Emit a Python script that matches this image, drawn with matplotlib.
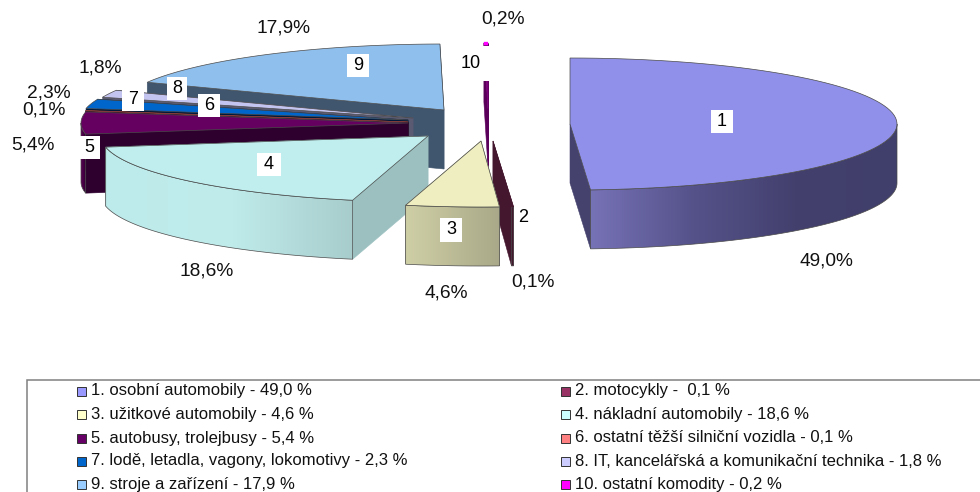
import numpy as np
import matplotlib
matplotlib.use('Agg')
import matplotlib.pyplot as plt
from matplotlib.colors import LinearSegmentedColormap
from matplotlib.patches import Polygon, Rectangle

plt.rcParams['font.family'] = ['Liberation Sans', 'DejaVu Sans']

VALUES = [49.0, 0.1, 4.6, 18.6, 5.4, 0.1, 2.3, 1.8, 17.9, 0.2]
NAMES = ['osobní automobily', 'motocykly', 'užitkové automobily', 'nákladní automobily',
         'autobusy, trolejbusy', 'ostatní těžší silniční vozidla',
         'lodě, letadla, vagony, lokomotivy', 'IT, kancelářská a komunikační technika',
         'stroje a zařízení', 'ostatní komodity']

# pie geometry in pixels
RX, RY, DEPTH = 327, 66, 59
APEX = [(570, 124), (493, 141), (481, 141), (428, 136), (408, 123),
        (408, 122), (408, 120), (413, 118), (444, 110), (488, 109)]
TOP = ['#9090ea', '#45172f', '#eeeec0', '#c0eeee', '#660060',
       '#803c38', '#0066cc', '#c4c4f0', '#8fbfec', '#7a0078']
CUT = ['#45426e', '#45172f', '#a9a888', '#9cc0c0', '#2e002e',
       '#2a1010', '#00183a', '#5a5a72', '#40566e', '#5a005a']
OUTER = [['#7672b6', '#55528a', '#43406e', '#403e6a'], ['#45172f', '#45172f'],
         ['#cfcfa6', '#a9a888'], ['#bdeaea', '#c0ecec', '#a8cccc'], ['#5c0058', '#2e002e'],
         ['#2a1010', '#2a1010'], ['#00183a', '#00183a'], ['#5a5a72', '#5a5a72'],
         ['#40566e', '#40566e'], ['#700070', '#700070']]
DRAW_ORDER = [8, 7, 6, 5, 4, 9, 3, 1, 2, 0]
THIN = [1, 5, 9]

# number boxes: x0, y0, x1, y1
NUM_BOXES = [(711, 110, 733, 133), (517, 206, 529, 228), (440, 218, 462, 242), (257, 153, 281, 176),
             (79, 136, 100, 159), (198, 94, 220, 117), (122, 89, 144, 111), (167, 77, 187, 100),
             (347, 54, 369, 77), (452, 46, 490, 81)]
PCT_POS = [(826, 261), (533, 282), (446, 293), (207, 271), (33, 145),
           (44, 110), (49, 93), (100, 68), (283, 28), (503, 19)]
LEGEND_ROWS = [391, 414, 438, 461, 484]
LEGEND_COLS = [(77, 91), (561, 575)]
LEGEND_COLORS = ['#9999ff', '#993366', '#ffffcc', '#ccffff', '#660066',
                 '#ff8080', '#0066cc', '#ccccff', '#99ccff', '#ff00ff']


def rim(apex, angles):
    a = np.radians(angles)
    return np.column_stack([apex[0] + RX * np.sin(a), apex[1] - RY * np.cos(a)])


def draw_outer(ax, apex, a0, a1, colors, z):
    # only the front half of the rim can be seen
    a0, a1 = max(a0, 90), min(a1, 270)
    if a1 <= a0:
        return
    arc = rim(apex, np.linspace(a0, a1, 80))
    pts = np.vstack([arc, arc[::-1] + [0, DEPTH]])
    patch = Polygon(pts, closed=True, facecolor='none', edgecolor='none', zorder=z)
    ax.add_patch(patch)
    cmap = LinearSegmentedColormap.from_list('rim', colors)
    im = ax.imshow(np.linspace(0, 1, 256)[None, :], cmap=cmap, aspect='auto', zorder=z,
                   extent=(pts[:, 0].min(), pts[:, 0].max(), pts[:, 1].max(), pts[:, 1].min()))
    im.set_clip_path(patch)
    ax.add_patch(Polygon(pts, closed=True, fill=False, edgecolor='#4a4a4a', lw=0.5, zorder=z))


def draw_slice(ax, i, a0, a1, z):
    apex = np.array(APEX[i], dtype=float)
    edge = TOP[i] if i in THIN else '#4a4a4a'
    for ang in (a1, a0):
        end = rim(apex, [ang])[0]
        pts = [apex, end, end + [0, DEPTH], apex + [0, DEPTH]]
        ax.add_patch(Polygon(pts, closed=True, facecolor=CUT[i], edgecolor=CUT[i], lw=0.4, zorder=z))
    draw_outer(ax, apex, a0, a1, OUTER[i], z + 0.1)
    arc = rim(apex, np.linspace(a0, a1, 80))
    ax.add_patch(Polygon(np.vstack([apex, arc]), closed=True, facecolor=TOP[i],
                         edgecolor=edge, lw=0.5, zorder=z + 0.2))


fig = plt.figure(figsize=(9.8, 4.92), dpi=100)
ax = fig.add_axes([0, 0, 1, 1])

edges = np.concatenate([[0], np.cumsum(VALUES)]) / sum(VALUES) * 360
for z, i in enumerate(DRAW_ORDER):
    draw_slice(ax, i, edges[i], edges[i + 1], z + 1)

# the far end of slice 10 keeps its bright colour
tip = rim(np.array(APEX[9], dtype=float), [edges[9], edges[10]])
ax.plot(tip[:, 0], tip[:, 1] + 0.5, color='#ff00ff', lw=2.4, solid_capstyle='butt', zorder=15)

# white boxes with the slice numbers
for i, (x0, y0, x1, y1) in enumerate(NUM_BOXES):
    ax.add_patch(Rectangle((x0, y0), x1 - x0, y1 - y0, facecolor='white', edgecolor='none', zorder=20))
    ax.text((x0 + x1) / 2, (y0 + y1) / 2, str(i + 1), ha='center', va='center', fontsize=13,
            color='black', zorder=21)

# percentage labels
for v, (x, y) in zip(VALUES, PCT_POS):
    ax.text(x, y, f'{v:.1f}'.replace('.', ',') + '%', ha='center', va='center', fontsize=13.8,
            color='#111111', zorder=21)

# legend frame runs off the right and bottom side
ax.plot([27, 27, 980], [492, 379.5, 379.5], color='#808080', lw=1.1, zorder=22, solid_joinstyle='miter')
for i, name in enumerate(NAMES):
    mx, tx = LEGEND_COLS[i % 2]
    y = LEGEND_ROWS[i // 2]
    ax.add_patch(Rectangle((mx, y - 4.5), 9, 9, facecolor=LEGEND_COLORS[i], edgecolor='#333333',
                           lw=0.7, zorder=22))
    val = f'{VALUES[i]:.1f}'.replace('.', ',')
    sep = ' -  ' if i == 1 else ' - '
    ax.text(tx, y, f'{i + 1}. {name}{sep}{val} %', ha='left', va='center', fontsize=12,
            color='#111111', zorder=22)

ax.set_xlim(0, 980)
ax.set_ylim(492, 0)
ax.axis('off')
fig.savefig('out.png', dpi=100)
